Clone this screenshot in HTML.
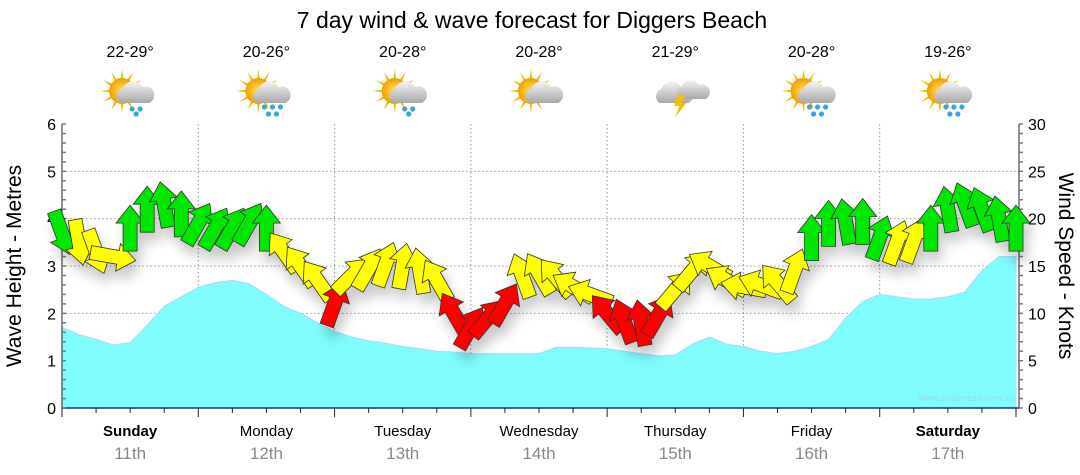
<!DOCTYPE html>
<html><head><meta charset="utf-8">
<style>
body{margin:0;background:#fff;width:1080px;height:475px;overflow:hidden;font-family:"Liberation Sans",sans-serif;}
svg{display:block}
</style></head>
<body>
<svg id="chart" width="1080" height="475" viewBox="0 0 1080 475" xmlns="http://www.w3.org/2000/svg">
<defs>
<radialGradient id="sunG" cx="50%" cy="50%" r="50%"><stop offset="0" stop-color="#ffe066"/><stop offset="1" stop-color="#f0a000"/></radialGradient>
<linearGradient id="cloudG" x1="0" y1="0" x2="0" y2="1"><stop offset="0" stop-color="#f4f4f4"/><stop offset="1" stop-color="#a8a8a8"/></linearGradient>
<filter id="sh" x="-50%" y="-50%" width="200%" height="200%"><feGaussianBlur in="SourceAlpha" stdDeviation="6"/><feOffset dx="4" dy="10"/><feComponentTransfer><feFuncA type="linear" slope="0.22"/></feComponentTransfer><feMerge><feMergeNode/><feMergeNode in="SourceGraphic"/></feMerge></filter>
</defs>
<text x="532" y="28" text-anchor="middle" font-size="23" fill="#000">7 day wind &amp; wave forecast for Diggers Beach</text>
<g id="grid"></g>
<g id="wave"></g>
<g id="axes"></g>
<g id="arrows" filter="url(#sh)"></g>
<g id="topg"></g>
<text transform="translate(21,266) rotate(-90)" text-anchor="middle" font-size="21">Wave Height - Metres</text>
<text transform="translate(1059,266) rotate(90)" text-anchor="middle" font-size="21">Wind Speed - Knots</text>
<text x="1014" y="401" text-anchor="end" font-size="9" fill="#9adbe6">www.seabreeze.com.au</text>
</svg>
<script>
const days=["Sunday","Monday","Tuesday","Wednesday","Thursday","Friday","Saturday"];
const dates=["11th","12th","13th","14th","15th","16th","17th"];
const boldDays=[true,false,false,false,false,false,true];
const temps=["22-29°","20-26°","20-28°","20-28°","21-29°","20-28°","19-26°"];
const icons=["sunrain","sunrain2","sunrain","suncloud","storm","sunrain2","sunrain2"];
const leftTicks=[0,1,2,3,4,5,6];
const rightTicks=[0,5,10,15,20,25,30];
// 3-hourly wave heights (m)
const waveHeights=[1.7,1.55,1.45,1.33,1.38,1.75,2.15,2.35,2.55,2.65,2.7,2.62,2.4,2.15,2.0,1.8,1.62,1.5,1.42,1.37,1.3,1.25,1.2,1.18,1.15,1.15,1.15,1.15,1.15,1.28,1.28,1.27,1.25,1.2,1.15,1.1,1.12,1.35,1.5,1.35,1.3,1.2,1.15,1.2,1.3,1.45,1.9,2.25,2.4,2.35,2.3,2.3,2.35,2.45,2.9,3.2,3.2];
// 3-hourly wind speed (knots)
const windSpeeds=[18.5,17.5,16.5,16,19,21,21.5,20.5,19.5,19,19,19.5,19,16.5,15,13.5,11,14,14.7,15.2,15,14.5,13.5,10,8.5,9.5,11,14,14.2,13.8,12.8,12,10,9.2,9,9.8,12.5,14.5,15,13.5,12.8,13,13.2,14.5,18,19.5,19.7,19.7,18,17.5,17.7,19,21,21.5,21,20,19];
// wind arrow direction (screen degrees, 0 = up, clockwise)
const windDirs=[160,170,160,100,0,0,-10,0,30,30,30,30,0,-35,-35,-35,20,45,30,20,10,-10,-30,-30,30,40,30,-20,-30,-40,-60,-70,-40,-20,-10,30,40,40,-60,-60,-80,-70,-40,20,0,0,-10,0,20,20,20,0,-10,-20,-20,-10,0];

const NS="http://www.w3.org/2000/svg";
const X0=62,X1=1016,Y0=408,YT=124;
const xPos=i=>X0+(X1-X0)*i/56;
const yM=v=>Y0-(Y0-YT)*v/6;
const yK=v=>Y0-(Y0-YT)*v/30;
function mk(tag,attrs,parent){const e=document.createElementNS(NS,tag);for(const k in attrs)e.setAttribute(k,attrs[k]);parent.appendChild(e);return e;}
const grid=document.getElementById('grid'),axes=document.getElementById('axes'),wave=document.getElementById('wave'),arrows=document.getElementById('arrows'),topG=document.getElementById('topg');
const dayW=(X1-X0)/7;
leftTicks.forEach(t=>{if(t>0&&t<6){const l=mk('line',{x1:X0,x2:1019,y1:yM(t),y2:yM(t),stroke:'#999','stroke-dasharray':'1.5,2.5'},grid);

}});
for(let d=1;d<7;d++){const l=mk('line',{x1:X0+d*dayW,x2:X0+d*dayW,y1:YT,y2:Y0,stroke:'#999','stroke-dasharray':'1.5,2.5'},grid);

}
let d='M'+X0+','+Y0;
waveHeights.forEach((v,i)=>{d+=' L'+xPos(i).toFixed(1)+','+yM(v).toFixed(1);});
d+=' L'+X1+','+Y0+' Z';
const wp=mk('path',{d:d,fill:'#80fcfc',stroke:'#a8d8ff','stroke-width':1},wave);


mk('line',{x1:X0,x2:X0,y1:YT,y2:Y0,stroke:'#222'},axes);
mk('line',{x1:1019,x2:1019,y1:YT,y2:Y0,stroke:'#222'},axes);
mk('line',{x1:X0,x2:1019,y1:Y0,y2:Y0,stroke:'#0b3d6b','stroke-width':1.5},axes);
for(let k=0;k<=30;k++){const y=Y0-(Y0-YT)*k/30;
mk('line',{x1:X0,x2:X0+4,y1:y,y2:y,stroke:'#777','stroke-width':1.5},axes);
mk('line',{x1:1019,x2:1023,y1:y,y2:y,stroke:'#777','stroke-width':1.5},axes);}
leftTicks.forEach(t=>{const tx=mk('text',{x:X0-6,y:yM(t)+6,'text-anchor':'end','font-size':16},axes);tx.textContent=t;

});
rightTicks.forEach(t=>{const tx=mk('text',{x:1028,y:yK(t)+6,'font-size':16},axes);tx.textContent=t;

});
for(let q=0;q<=28;q++){const x=X0+q*dayW/4;mk('line',{x1:x,x2:x,y1:Y0,y2:Y0+(q%4==0?9:5),stroke:'#222'},axes);}
days.forEach((n,i)=>{const cx=X0+dayW*(i+0.5);
const t=mk('text',{x:cx,y:436,'text-anchor':'middle','font-size':15,'font-weight':boldDays[i]?'bold':'normal'},axes);t.textContent=n;


const t2=mk('text',{x:cx,y:459,'text-anchor':'middle','font-size':17,fill:'#888'},axes);t2.textContent=dates[i];


const t3=mk('text',{x:cx,y:57,'text-anchor':'middle','font-size':16},topG);t3.textContent=temps[i];


const g=mk('g',{transform:'translate('+cx+',95)'},topG);


const ic=icons[i];
if(ic!=='storm'){
for(let a=0;a<360;a+=30){mk('polygon',{points:'-3,0 3,0 0,-22',fill:'#f5b800',transform:'translate(-8,-4) rotate('+a+')'},g);}
mk('circle',{cx:-8,cy:-4,r:13,fill:'url(#sunG)'},g);}
const cxo=ic==='storm'?-2:4;
mk('path',{d:'M'+(cxo-14)+',8 a8,8 0 0 1 2,-14 a11,11 0 0 1 20,-2 a8,8 0 0 1 7,16 Z',fill:'url(#cloudG)'},g);
if(ic==='storm'){mk('path',{d:'M-8,2 a7,7 0 0 1 2,-12 a10,10 0 0 1 18,-2 a7,7 0 0 1 6,14 Z',fill:'url(#cloudG)',transform:'translate(12,2)'},g);
mk('polygon',{points:'2,0 10,0 6,8 11,8 0,22 4,11 -1,11',fill:'#f5c000'},g);}
if(ic==='sunrain'||ic==='sunrain2'){const drops=ic==='sunrain'?[[-2,14],[6,14],[2,19]]:[[-6,12],[2,12],[10,12],[-2,19],[6,19]];
drops.forEach(p=>mk('circle',{cx:p[0]+cxo,cy:p[1],r:2.6,fill:'#3aa6e0'},g));}
});
const arrowPath='M0,-23 L14,-5 L7,-5 L7,23 L-7,23 L-7,-5 L-14,-5 Z';
windSpeeds.forEach((s,i)=>{const c=s<11.5?'#ff0000':(s<18?'#ffff00':'#00e600');
const a=mk('path',{d:arrowPath,fill:c,stroke:'#333','stroke-width':0.8,transform:'translate('+xPos(i).toFixed(1)+','+yK(s).toFixed(1)+') rotate('+windDirs[i]+')'},arrows);

});
</script>
</body></html>
